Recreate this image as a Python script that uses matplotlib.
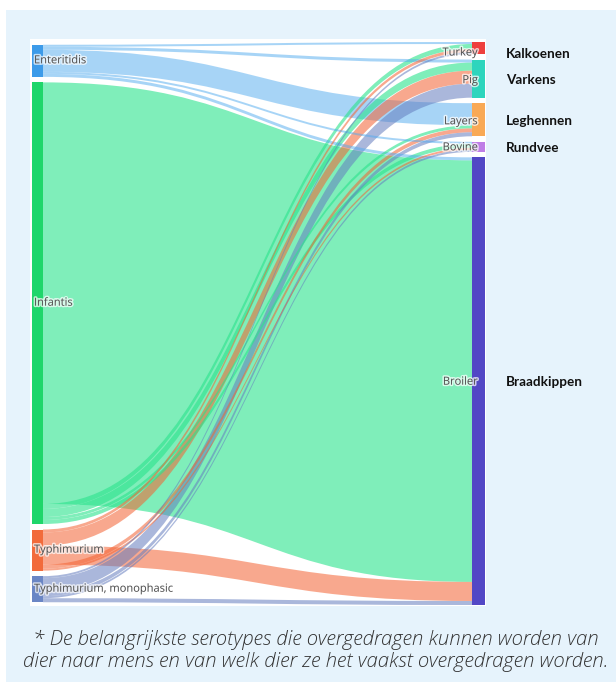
import matplotlib
matplotlib.use("Agg")
import matplotlib.pyplot as plt
import matplotlib.patches as mpatches
from matplotlib.path import Path
import matplotlib.patheffects as pe

# ---------------- data ----------------
sources = ["Enteritidis", "Infantis", "Typhimurium", "Typhimurium, monophasic"]
targets = ["Turkey", "Pig", "Layers", "Bovine", "Broiler"]
targets_nl = ["Kalkoenen", "Varkens", "Leghennen", "Rundvee", "Braadkippen"]

# flow values from each source to targets (Turkey, Pig, Layers, Bovine, Broiler)
enteritidis = [2, 3, 22, 2, 3]
infantis = [5, 8, 3, 4, 420]
typhimurium = [3, 13, 4, 2, 19]
monophasic = [2, 14, 4, 2, 4]

footnote = ("* De belangrijkste serotypes die overgedragen kunnen worden van\n"
            "dier naar mens en van welk dier ze het vaakst overgedragen worden.")

# ---------------- styles ----------------
source_colors = ["#3D9BE9", "#1FD66A", "#F26B3B", "#6B86C5"]
link_colors = ["#51ABEF", "#2AE38C", "#F46231", "#647DBF"]
link_alpha = [0.5, 0.6, 0.55, 0.55]
target_colors = ["#EE3F3D", "#2DD5BD", "#F9A955", "#BF7DE6", "#5247C5"]
# order (top->bottom) of outgoing links at each source
out_order = [
    [0, 1, 2, 3, 4],
    [4, 0, 1, 2, 3],
    [0, 1, 4, 2, 3],
    [0, 1, 2, 3, 4],
]
nl_nudge = [6, 1, 1, 1, 1]
lbl_nudge = [5, 2, 2, 1, 1]

flows = [enteritidis, infantis, typhimurium, monophasic]

W, H = 616, 682
fig = plt.figure(figsize=(W / 100, H / 100), dpi=100)
fig.patch.set_facecolor("white")
bg = mpatches.Rectangle((6 / W, 0), 1, 1 - 10 / H, transform=fig.transFigure,
                        facecolor="#E6F3FC", edgecolor="none", zorder=-10)
fig.patches.append(bg)

ax_l, ax_r, ax_t, ax_b = 30, 486, 39, 606
ax = fig.add_axes([ax_l / W, 1 - ax_b / H, (ax_r - ax_l) / W, (ax_b - ax_t) / H])
ax.set_zorder(1)
ax.set_facecolor("white")
for s in ax.spines.values():
    s.set_visible(False)
ax.set_xticks([])
ax.set_yticks([])
aw, ah = ax_r - ax_l, ax_b - ax_t
ax.set_xlim(0, aw)
ax.set_ylim(ah, 0)

# ---------------- layout ----------------
pad = 5.5
col_top, col_bot = 3, 566
total = sum(sum(f) for f in flows)
ky = (col_bot - col_top - (len(targets) - 1) * pad) / total

src_tot = [sum(f) for f in flows]
tgt_tot = [sum(f[j] for f in flows) for j in range(len(targets))]

left_h = total * ky + (len(sources) - 1) * pad
right_h = total * ky + (len(targets) - 1) * pad
mid = (col_top + col_bot) / 2

src_y = []
y = mid - left_h / 2
for v in src_tot:
    src_y.append(y)
    y += v * ky + pad
tgt_y = []
y = mid - right_h / 2
for v in tgt_tot:
    tgt_y.append(y)
    y += v * ky + pad

lx0, lx1 = 2, 13
rx0, rx1 = 442, 455

src_off = {}
for i, f in enumerate(flows):
    y = src_y[i]
    for j in out_order[i]:
        src_off[(i, j)] = y
        y += f[j] * ky
tgt_off = {}
for j in range(len(targets)):
    y = tgt_y[j]
    for i, f in enumerate(flows):
        tgt_off[(i, j)] = y
        y += f[j] * ky

links = []
for i, f in enumerate(flows):
    for j, v in enumerate(f):
        if v > 0:
            links.append((v, i, j))
links.sort(key=lambda t: -t[0])

xm = (lx1 + rx0) / 2
for v, i, j in links:
    h = v * ky
    sy0 = src_off[(i, j)]
    ty0 = tgt_off[(i, j)]
    verts = [(lx1, sy0), (xm, sy0), (xm, ty0), (rx0, ty0),
             (rx0, ty0 + h),
             (xm, ty0 + h), (xm, sy0 + h), (lx1, sy0 + h),
             (lx1, sy0)]
    codes = [Path.MOVETO, Path.CURVE4, Path.CURVE4, Path.CURVE4,
             Path.LINETO,
             Path.CURVE4, Path.CURVE4, Path.CURVE4,
             Path.CLOSEPOLY]
    ax.add_patch(mpatches.PathPatch(Path(verts, codes), facecolor=link_colors[i],
                                    alpha=link_alpha[i], edgecolor="none",
                                    zorder=2))

halo = [pe.withStroke(linewidth=2.2, foreground="white", alpha=0.7)]
for i, name in enumerate(sources):
    h = src_tot[i] * ky
    ax.add_patch(mpatches.Rectangle((lx0, src_y[i]), lx1 - lx0, h,
                                    facecolor=source_colors[i], edgecolor="none",
                                    zorder=3))
    ax.text(lx0 + 2, src_y[i] + h / 2, name, ha="left", va="center",
            fontsize=8, color="#505050", family="Open Sans",
            path_effects=halo, zorder=5)

for j, name in enumerate(targets):
    h = tgt_tot[j] * ky
    ax.add_patch(mpatches.Rectangle((rx0, tgt_y[j]), rx1 - rx0, h,
                                    facecolor=target_colors[j], edgecolor="none",
                                    zorder=3))
    ax.text(rx0 + 6, tgt_y[j] + h / 2 + lbl_nudge[j], name, ha="right",
            va="center", fontsize=8, color="#505050", family="Open Sans",
            path_effects=halo, zorder=5)
    ax.text(rx1 + 21, tgt_y[j] + h / 2 + nl_nudge[j], targets_nl[j],
            ha="left", va="center", fontsize=9.7, color="#111111",
            family="Lato", fontweight="bold", clip_on=False, zorder=5)

fig.text(316 / W, 1 - 651 / H, footnote, ha="center", va="center",
         fontsize=14.7, color="#333333", family="Open Sans", style="italic",
         fontweight="light", linespacing=1.12, zorder=5)

fig.savefig("out.png", dpi=100, facecolor=fig.get_facecolor())
